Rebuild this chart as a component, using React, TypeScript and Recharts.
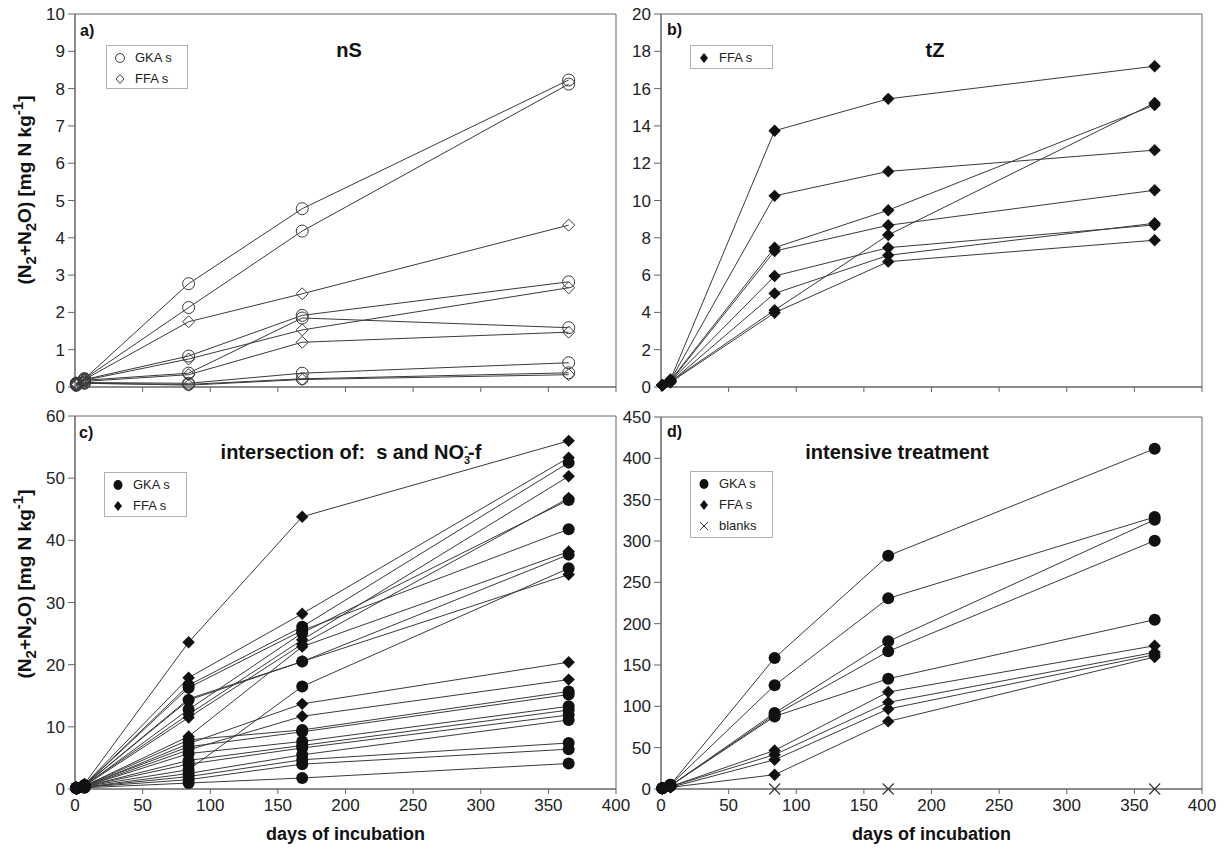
import React from "react";
import { LineChart, Line, XAxis, YAxis, ReferenceArea } from "recharts";

// sampling days (x) shared by every series
const days = [1, 7, 84, 168, 365];
const dayTicks = [0, 50, 100, 150, 200, 250, 300, 350, 400];

// a) nS
const aTicks = [0, 1, 2, 3, 4, 5, 6, 7, 8, 9, 10];
const aGKA = [
  [0.1, 0.22, 2.77, 4.78, 8.23],
  [0.1, 0.22, 2.13, 4.18, 8.12],
  [0.08, 0.2, 0.83, 1.92, 2.82],
  [0.08, 0.18, 0.37, 1.85, 1.59],
  [0.05, 0.12, 0.1, 0.37, 0.65],
  [0.05, 0.1, 0.07, 0.22, 0.38],
];
const aFFA = [
  [0.1, 0.2, 1.75, 2.5, 4.34],
  [0.08, 0.18, 0.75, 1.53, 2.66],
  [0.06, 0.15, 0.33, 1.2, 1.47],
  [0.04, 0.1, 0.05, 0.2, 0.33],
];

// b) tZ
const bTicks = [0, 2, 4, 6, 8, 10, 12, 14, 16, 18, 20];
const bFFA = [
  [0.1, 0.4, 13.74, 15.45, 17.2],
  [0.1, 0.35, 10.25, 11.56, 12.7],
  [0.1, 0.35, 7.47, 9.48, 15.12],
  [0.1, 0.3, 7.29, 8.67, 10.55],
  [0.1, 0.3, 5.95, 7.47, 8.69],
  [0.1, 0.25, 5.02, 7.06, 8.78],
  [0.1, 0.3, 4.12, 8.15, 15.23],
  [0.1, 0.25, 3.98, 6.72, 7.87],
];

// c) intersection of s and NO3-f
const cTicks = [0, 10, 20, 30, 40, 50, 60];
const cGKA = [
  [0.2, 0.6, 16.7, 26.1, 52.5],
  [0.2, 0.6, 16.3, 25.5, 41.8],
  [0.2, 0.6, 14.3, 20.5, 37.7],
  [0.2, 0.5, 12.8, 25.1, 46.5],
  [0.1, 0.4, 3.1, 16.5, 35.5],
  [0.2, 0.5, 7.9, 9.5, 15.7],
  [0.2, 0.5, 6.8, 9.2, 15.2],
  [0.1, 0.4, 5.7, 7.65, 13.3],
  [0.1, 0.4, 4.6, 7.0, 12.7],
  [0.1, 0.4, 4.0, 6.6, 11.9],
  [0.1, 0.3, 2.5, 5.5, 11.1],
  [0.1, 0.3, 2.0, 4.7, 7.4],
  [0.1, 0.3, 1.5, 4.0, 6.4],
  [0.1, 0.2, 0.96, 1.77, 4.1],
];
const cFFA = [
  [0.3, 0.8, 23.6, 43.8, 56.0],
  [0.3, 0.7, 17.9, 28.2, 53.3],
  [0.2, 0.6, 14.5, 20.5, 34.5],
  [0.2, 0.6, 12.0, 24.0, 50.3],
  [0.2, 0.5, 11.5, 23.3, 46.8],
  [0.2, 0.5, 8.46, 22.9, 38.2],
  [0.2, 0.4, 7.3, 13.7, 20.4],
  [0.2, 0.4, 6.3, 11.7, 17.6],
];

// d) intensive treatment
const dTicks = [0, 50, 100, 150, 200, 250, 300, 350, 400, 450];
const dGKA = [
  [1, 5, 158.5, 282.2, 411.6],
  [1, 5, 125.4, 230.6, 329],
  [1, 4, 91.9, 178.6, 325.8],
  [1, 4, 89.5, 166.5, 300.4],
  [1, 4, 87.8, 133.4, 204.8],
];
const dFFA = [
  [0.5, 3, 46.7, 117.3, 173.3],
  [0.5, 3, 41.5, 104.8, 165.3],
  [0.5, 2, 35.4, 96.8, 162.5],
  [0.5, 2, 17.3, 81.8, 159.7],
];
const dBlanks = [null, null, 0, 0, 0];

const FONT = "'Liberation Sans', Arial, sans-serif";
const LINE = "#3a3a3a";
const AXIS = "#666";
const INK = "#111";

type Series = { key: string; shape: string; values: (number | null)[] };

function buildRows(series: Series[]) {
  return days.map((d, i) => {
    const row: Record<string, number | null> = { day: d };
    series.forEach((s) => (row[s.key] = s.values[i]));
    return row;
  });
}

function toSeries(prefix: string, shape: string, list: (number | null)[][]): Series[] {
  return list.map((values, k) => ({ key: `${prefix}${k}`, shape, values }));
}

function Marker({ shape, cx, cy }: { shape: string; cx: number; cy: number }) {
  if (shape === "openCircle")
    return <circle cx={cx} cy={cy} r={6} fill="none" stroke={LINE} strokeWidth={1} />;
  if (shape === "openDiamond") {
    const s = 6;
    return (
      <polygon
        points={`${cx},${cy - s} ${cx + s},${cy} ${cx},${cy + s} ${cx - s},${cy}`}
        fill="none"
        stroke={LINE}
        strokeWidth={1}
      />
    );
  }
  if (shape === "circle") return <circle cx={cx} cy={cy} r={6} fill={INK} />;
  if (shape === "diamond") {
    const s = 6.2;
    return <polygon points={`${cx},${cy - s} ${cx + s},${cy} ${cx},${cy + s} ${cx - s},${cy}`} fill={INK} />;
  }
  if (shape === "cross") {
    const s = 5.5;
    return (
      <g stroke="#333" strokeWidth={1.1}>
        <line x1={cx - s} y1={cy - s} x2={cx + s} y2={cy + s} />
        <line x1={cx - s} y1={cy + s} x2={cx + s} y2={cy - s} />
      </g>
    );
  }
  return null;
}

const makeDot = (shape: string) => (props: any) => {
  const { cx, cy, value, index, dataKey } = props;
  const key = `${dataKey}-${index}`;
  if (cx == null || cy == null || value == null) return <g key={key} />;
  return (
    <g key={key}>
      <Marker shape={shape} cx={cx} cy={cy} />
    </g>
  );
};

function LegendBox({
  left,
  top,
  width,
  height,
  items,
}: {
  left: number;
  top: number;
  width: number;
  height: number;
  items: { shape: string; label: string }[];
}) {
  return (
    <div
      style={{
        position: "absolute",
        left,
        top,
        width,
        height,
        boxSizing: "border-box",
        border: "1px solid #b0b0b0",
        background: "#fff",
        paddingTop: 1,
        fontFamily: FONT,
        fontSize: 13,
        color: "#222",
      }}
    >
      {items.map((it) => (
        <div key={it.label} style={{ height: 21, display: "flex", alignItems: "center", paddingLeft: 6 }}>
          <svg width={14} height={14} style={{ marginRight: 8 }}>
            {it.shape === "circle" ? (
              <ellipse cx={7} cy={7} rx={4.5} ry={5} fill={INK} />
            ) : it.shape === "diamond" ? (
              <polygon points="7,2 11,7 7,12 3,7" fill={INK} />
            ) : it.shape === "openDiamond" ? (
              <polygon points="7,2.5 11,7 7,11.5 3,7" fill="none" stroke={LINE} />
            ) : it.shape === "openCircle" ? (
              <circle cx={7} cy={7} r={4.5} fill="none" stroke={LINE} />
            ) : (
              <g stroke="#333">
                <line x1={3} y1={3} x2={11} y2={11} />
                <line x1={3} y1={11} x2={11} y2={3} />
              </g>
            )}
          </svg>
          <span>{it.label}</span>
        </div>
      ))}
    </div>
  );
}

function Panel({
  left,
  top,
  height,
  xAxisHeight,
  max,
  yTicks,
  series,
  showXLabels,
}: {
  left: number;
  top: number;
  height: number;
  xAxisHeight: number;
  max: number;
  yTicks: number[];
  series: Series[];
  showXLabels: boolean;
}) {
  const rows = buildRows(series);
  return (
    <div style={{ position: "absolute", left, top }}>
      <LineChart width={646} height={height} data={rows} margin={{ top: 14, right: 30, left: 0, bottom: 0 }}>
        <ReferenceArea
          x1={0}
          x2={400}
          y1={0}
          y2={max}
          fill="none"
          stroke={AXIS}
          strokeWidth={1}
          ifOverflow="visible"
        />
        <XAxis
          type="number"
          dataKey="day"
          domain={[0, 400]}
          ticks={dayTicks}
          interval={0}
          height={xAxisHeight}
          tickSize={5}
          tickMargin={5}
          axisLine={{ stroke: AXIS }}
          tickLine={{ stroke: AXIS }}
          tick={{ fontSize: 17, fill: "#222", fontFamily: FONT }}
          tickFormatter={(v: number) => (showXLabels ? String(v) : "")}
          label={
            showXLabels
              ? {
                  value: "days of incubation",
                  position: "insideBottom",
                  offset: 10,
                  style: { fontSize: 18, fontWeight: "bold", fill: "#111", fontFamily: FONT },
                }
              : undefined
          }
        />
        <YAxis
          type="number"
          domain={[0, max]}
          ticks={yTicks}
          interval={0}
          width={75}
          tickSize={7}
          tickMargin={3}
          axisLine={{ stroke: AXIS }}
          tickLine={{ stroke: AXIS }}
          tick={{ fontSize: 17, fill: "#222", fontFamily: FONT }}
        />
        {series.map((s) => (
          <Line
            key={s.key}
            dataKey={s.key}
            stroke={s.shape === "cross" ? "none" : LINE}
            strokeWidth={1}
            dot={makeDot(s.shape)}
            activeDot={false}
            isAnimationActive={false}
            connectNulls={false}
          />
        ))}
      </LineChart>
    </div>
  );
}

function YTitle({ x, y }: { x: number; y: number }) {
  return (
    <div
      style={{
        position: "absolute",
        left: x,
        top: y,
        transform: "translate(-50%, -50%) rotate(-90deg)",
        whiteSpace: "nowrap",
        fontFamily: FONT,
        fontWeight: "bold",
        fontSize: 19,
        color: "#111",
      }}
    >
      (N<sub style={{ fontSize: 15 }}>2</sub>+N<sub style={{ fontSize: 15 }}>2</sub>O) [mg N kg
      <sup style={{ fontSize: 15 }}>-1</sup>]
    </div>
  );
}

function Label({ x, y, size, children, center }: any) {
  return (
    <div
      style={{
        position: "absolute",
        left: x,
        top: y,
        transform: center ? "translate(-50%, -50%)" : "translate(0, -50%)",
        whiteSpace: "pre",
        fontFamily: FONT,
        fontWeight: "bold",
        fontSize: size,
        color: "#111",
      }}
    >
      {children}
    </div>
  );
}

export default function App() {
  const aSeries = [...toSeries("g", "openCircle", aGKA), ...toSeries("f", "openDiamond", aFFA)];
  const bSeries = toSeries("f", "diamond", bFFA);
  const cSeries = [...toSeries("g", "circle", cGKA), ...toSeries("f", "diamond", cFFA)];
  const dSeries = [
    ...toSeries("g", "circle", dGKA),
    ...toSeries("f", "diamond", dFFA),
    { key: "blank", shape: "cross", values: dBlanks },
  ];

  return (
    <div
      style={{
        position: "absolute",
        left: 0,
        top: 0,
        width: 1232,
        height: 850,
        background: "#fff",
        overflow: "hidden",
      }}
    >
      <Panel left={0} top={0} height={400} xAxisHeight={13} max={10} yTicks={aTicks} series={aSeries} showXLabels={false} />
      <Panel left={586} top={0} height={400} xAxisHeight={13} max={20} yTicks={bTicks} series={bSeries} showXLabels={false} />
      <Panel left={0} top={402} height={448} xAxisHeight={61} max={60} yTicks={cTicks} series={cSeries} showXLabels={true} />
      <Panel left={586} top={403} height={447} xAxisHeight={61} max={450} yTicks={dTicks} series={dSeries} showXLabels={true} />

      <YTitle x={24} y={190} />
      <YTitle x={24} y={584} />

      <Label x={80} y={31} size={16}>a)</Label>
      <Label x={667} y={30} size={16}>b)</Label>
      <Label x={79} y={433} size={16}>c)</Label>
      <Label x={667} y={432} size={16}>d)</Label>

      <Label x={349} y={50} size={20} center>nS</Label>
      <Label x={935} y={50} size={20} center>tZ</Label>
      <Label x={351} y={453} size={20} center>
        intersection of:  s and NO<sub style={{ fontSize: 11 }}>3</sub>
        <sup style={{ fontSize: 12, marginLeft: -6 }}>-</sup>-f
      </Label>
      <Label x={897} y={452} size={20} center>intensive treatment</Label>

      <LegendBox
        left={106}
        top={45}
        width={82}
        height={44}
        items={[
          { shape: "openCircle", label: "GKA s" },
          { shape: "openDiamond", label: "FFA s" },
        ]}
      />
      <LegendBox left={690} top={45} width={83} height={24} items={[{ shape: "diamond", label: "FFA s" }]} />
      <LegendBox
        left={104}
        top={472}
        width={83}
        height={45}
        items={[
          { shape: "circle", label: "GKA s" },
          { shape: "diamond", label: "FFA s" },
        ]}
      />
      <LegendBox
        left={690}
        top={471}
        width={83}
        height={67}
        items={[
          { shape: "circle", label: "GKA s" },
          { shape: "diamond", label: "FFA s" },
          { shape: "cross", label: "blanks" },
        ]}
      />
    </div>
  );
}
